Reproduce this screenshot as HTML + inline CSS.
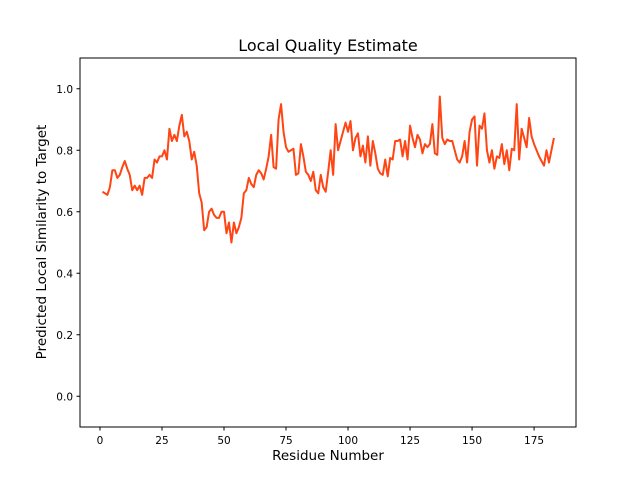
<!DOCTYPE html>
<html><head><meta charset="utf-8"><style>
body{margin:0;background:#fff}
svg text{font-family:"DejaVu Sans","Liberation Sans",sans-serif;fill:#000}
</style></head><body>
<svg id="chart" width="640" height="480" viewBox="0 0 640 480" xmlns="http://www.w3.org/2000/svg">
<rect width="640" height="480" fill="#fff"/>
<text x="328" y="51" font-size="16" text-anchor="middle">Local Quality Estimate</text>
<text x="328" y="460" font-size="13.5" text-anchor="middle">Residue Number</text>
<text transform="translate(46,242) rotate(-90)" font-size="13.5" text-anchor="middle">Predicted Local Similarity to Target</text>
<g id="ticks"></g>
<path id="series" fill="none" stroke="#ff4513" stroke-width="2" stroke-linejoin="round"/>
<rect x="80" y="58" width="496" height="369" fill="none" stroke="#000" stroke-width="1"/>
</svg>
<script>
const quality=[0.665,0.66,0.655,0.68,0.735,0.735,0.71,0.72,0.745,0.765,0.74,0.72,0.67,0.685,0.67,0.685,0.655,0.71,0.71,0.72,0.71,0.77,0.76,0.78,0.78,0.80,0.77,0.87,0.83,0.85,0.83,0.88,0.915,0.845,0.86,0.83,0.77,0.795,0.75,0.66,0.63,0.54,0.55,0.60,0.61,0.59,0.58,0.58,0.60,0.60,0.53,0.565,0.50,0.565,0.53,0.55,0.58,0.66,0.67,0.71,0.69,0.68,0.72,0.735,0.725,0.705,0.74,0.78,0.85,0.745,0.74,0.90,0.95,0.86,0.81,0.795,0.80,0.805,0.72,0.725,0.82,0.78,0.73,0.72,0.70,0.73,0.67,0.66,0.72,0.68,0.665,0.73,0.80,0.72,0.885,0.80,0.83,0.86,0.89,0.86,0.895,0.80,0.84,0.855,0.78,0.815,0.76,0.845,0.75,0.83,0.79,0.74,0.725,0.72,0.77,0.715,0.775,0.77,0.83,0.83,0.835,0.78,0.83,0.77,0.88,0.84,0.81,0.85,0.835,0.79,0.82,0.81,0.82,0.885,0.79,0.785,0.975,0.84,0.82,0.835,0.83,0.83,0.80,0.77,0.76,0.78,0.83,0.76,0.86,0.90,0.91,0.75,0.88,0.87,0.92,0.80,0.76,0.80,0.74,0.78,0.775,0.82,0.755,0.80,0.735,0.805,0.80,0.95,0.77,0.87,0.84,0.81,0.905,0.845,0.82,0.80,0.78,0.765,0.75,0.80,0.76,0.80,0.84];
const xTicks=[0,25,50,75,100,125,150,175];
const yTicks=[0.0,0.2,0.4,0.6,0.8,1.0];
const X0=-8.05,X1=191.9,Y0=-0.1,Y1=1.1;
function sx(v){return 80+(v-X0)/(X1-X0)*496;}
function sy(v){return 427-(v-Y0)/(Y1-Y0)*369;}
const NS='http://www.w3.org/2000/svg';
const g=document.getElementById('ticks');
function mk(t,a){const e=document.createElementNS(NS,t);for(const k in a)e.setAttribute(k,a[k]);return e;}
xTicks.forEach(v=>{
 const l=mk('line',{x1:sx(v),x2:sx(v),y1:427,y2:430.5,stroke:'#000'});
 
 
 g.appendChild(l);
 const t=mk('text',{x:sx(v),y:444,'font-size':'10.5','text-anchor':'middle'});
 
 
 t.textContent=String(v);g.appendChild(t);
});
yTicks.forEach(v=>{
 const l=mk('line',{x1:76.5,x2:80,y1:sy(v),y2:sy(v),stroke:'#000'});
 
 
 g.appendChild(l);
 const t=mk('text',{x:73,y:sy(v)+4,'font-size':'10.5','text-anchor':'end'});
 
 
 t.textContent=v.toFixed(1);g.appendChild(t);
});
document.getElementById('series').setAttribute('d',quality.map((v,i)=>(i?'L':'M')+sx(i+1).toFixed(2)+','+sy(v).toFixed(2)).join(''));
</script>
</body></html>
